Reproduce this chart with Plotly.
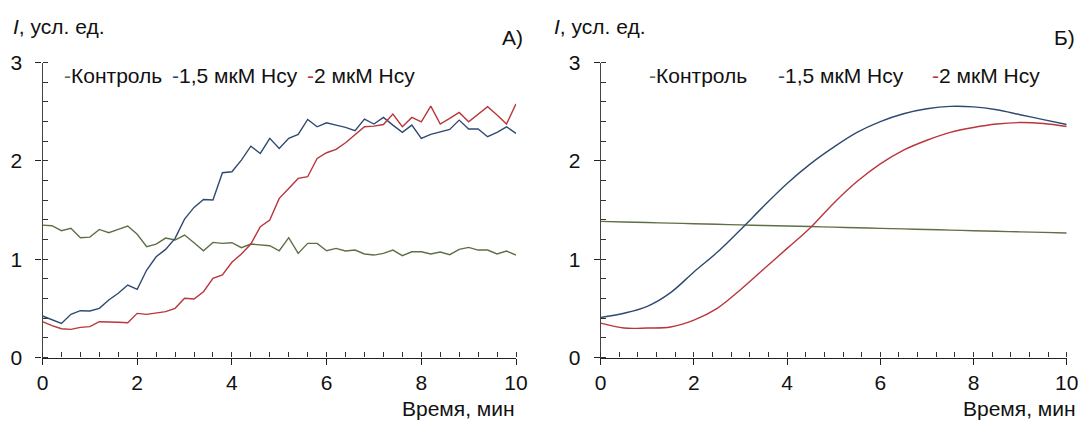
import plotly.graph_objects as go

# ---------------- data ----------------
time_a = [round(i * 0.2, 1) for i in range(51)]

control_a = [1.347, 1.341, 1.290, 1.314, 1.219, 1.225, 1.303, 1.270, 1.303, 1.337,
             1.253, 1.127, 1.154, 1.215, 1.195, 1.246, 1.168, 1.086, 1.171, 1.161,
             1.168, 1.117, 1.154, 1.144, 1.137, 1.086,
             1.219, 1.059, 1.161, 1.161, 1.086, 1.110, 1.083, 1.093, 1.053, 1.042,
             1.059, 1.093, 1.036, 1.076, 1.076, 1.053, 1.073, 1.046, 1.100, 1.120,
             1.093, 1.093, 1.053, 1.083, 1.042]

hcy15_a = [0.422, 0.381, 0.347, 0.439, 0.476, 0.473, 0.500, 0.585, 0.653, 0.737,
           0.693, 0.890, 1.025, 1.100, 1.212, 1.408, 1.527, 1.608, 1.602, 1.880,
           1.890, 2.008, 2.150, 2.076, 2.229, 2.127,
           2.229, 2.270, 2.422, 2.347, 2.388, 2.364, 2.341, 2.307, 2.425, 2.375,
           2.442, 2.364, 2.290, 2.364, 2.229, 2.270, 2.297, 2.320, 2.415, 2.324,
           2.324, 2.246, 2.290, 2.347, 2.280]

hcy2_a = [0.364, 0.324, 0.293, 0.286, 0.307, 0.314, 0.364, 0.364, 0.358, 0.354,
          0.449, 0.439, 0.449, 0.466, 0.500, 0.602, 0.595, 0.669, 0.805, 0.839,
          0.968, 1.053, 1.154, 1.331, 1.398, 1.619,
          1.720, 1.822, 1.839, 2.025, 2.083, 2.117, 2.185, 2.263, 2.347, 2.354,
          2.370, 2.476, 2.347, 2.442, 2.398, 2.558, 2.375, 2.432, 2.493, 2.398,
          2.476, 2.551, 2.466, 2.375, 2.580]

time_b = [0, 0.5, 1, 1.5, 2, 2.5, 3, 3.5, 4, 4.5, 5, 5.5, 6, 6.5, 7, 7.5, 8, 8.5, 9, 9.5, 10]
control_b = [1.385, 1.379, 1.373, 1.367, 1.361, 1.355, 1.349, 1.343, 1.337, 1.332, 1.326,
             1.320, 1.314, 1.308, 1.302, 1.296, 1.290, 1.284, 1.278, 1.273, 1.267]
hcy15_b = [0.407, 0.45, 0.52, 0.66, 0.87, 1.07, 1.30, 1.54, 1.77, 1.97, 2.14,
           2.29, 2.40, 2.48, 2.53, 2.555, 2.55, 2.52, 2.47, 2.42, 2.37]
hcy2_b = [0.35, 0.30, 0.30, 0.31, 0.38, 0.50, 0.69, 0.90, 1.11, 1.32, 1.57,
          1.79, 1.97, 2.11, 2.21, 2.29, 2.34, 2.375, 2.39, 2.38, 2.35]

series_names = ["Контроль", "1,5 мкМ Hcy", "2 мкМ Hcy"]
colors = ["#5f6f45", "#2f4a72", "#b8363c"]
y_ticks = [0, 1, 2, 3]
x_ticks = [0, 2, 4, 6, 8, 10]

FONT = "Liberation Sans, Arial, sans-serif"
FS = 21

fig = go.Figure()

panel_a = [control_a, hcy15_a, hcy2_a]
panel_b = [control_b, hcy15_b, hcy2_b]
for name, col, ys in zip(series_names, colors, panel_a):
    fig.add_trace(go.Scatter(x=time_a, y=ys, mode="lines", name=name,
                             line=dict(color=col, width=1.4),
                             xaxis="x", yaxis="y", showlegend=False))
for name, col, ys in zip(series_names, colors, panel_b):
    fig.add_trace(go.Scatter(x=time_b, y=ys, mode="lines", name=name,
                             line=dict(color=col, width=1.4, shape="spline", smoothing=1.0),
                             xaxis="x2", yaxis="y2", showlegend=False))

# the page body has an 8px default margin, so the figure is 8px smaller
OFF = 8
W, H = 1086 - OFF, 421 - OFF
def px_x(p):
    return (p - OFF) / W
def px_y(p):
    return 1 - (p - OFF) / H

xdom_a = [px_x(42.5), px_x(516)]
xdom_b = [px_x(600.7), px_x(1066.7)]
ydom = [px_y(357.5), px_y(62.6)]

common_x = dict(range=[0, 10], tickvals=x_ticks, ticks="outside", ticklen=6, tickwidth=1.3,
                tickcolor="#222", showline=True, linecolor="#222", linewidth=1.3,
                showgrid=False, zeroline=False, automargin=False,
                tickfont=dict(family=FONT, size=FS, color="#111"),
                minor=dict(dtick=0.4, ticks="inside", ticklen=5, tickcolor="#333",
                           tickwidth=1, showgrid=False))
common_y = dict(range=[0, 3], tickvals=y_ticks, ticks="outside", ticklen=6, tickwidth=1.3,
                tickcolor="#222", showline=True, linecolor="#444", linewidth=1.2,
                showgrid=False, zeroline=False, ticklabelstandoff=9, automargin=False,
                tickfont=dict(family=FONT, size=FS, color="#111"),
                minor=dict(dtick=0.2, ticks="inside", ticklen=5, tickcolor="#333",
                           tickwidth=1, showgrid=False))

fig.update_layout(
    width=W, height=H,
    margin=dict(l=0, r=0, t=0, b=0, pad=0, autoexpand=False),
    paper_bgcolor="white", plot_bgcolor="white",
    font=dict(family=FONT, size=FS, color="#111"),
    xaxis=dict(domain=xdom_a, anchor="y", **common_x),
    yaxis=dict(domain=ydom, anchor="x", **common_y),
    xaxis2=dict(domain=xdom_b, anchor="y2", **common_x),
    yaxis2=dict(domain=ydom, anchor="x2", **common_y),
)

annotations = []
# axis titles
for xr in [517, 1078]:
    annotations.append(dict(x=px_x(xr), y=px_y(408), xref="paper", yref="paper",
                            text="Время, мин", showarrow=False, xanchor="right", yanchor="middle",
                            font=dict(family=FONT, size=FS, color="#111")))
for xl in [11, 552]:
    annotations.append(dict(x=px_x(xl), y=px_y(26), xref="paper", yref="paper",
                            text="<i>I</i>, усл. ед.", showarrow=False, xanchor="left", yanchor="middle",
                            font=dict(family=FONT, size=FS, color="#111")))
# panel letters
annotations.append(dict(x=px_x(525), y=px_y(38), xref="paper", yref="paper", text="А)",
                        showarrow=False, xanchor="right", yanchor="middle",
                        font=dict(family=FONT, size=FS, color="#111")))
annotations.append(dict(x=px_x(1077), y=px_y(38), xref="paper", yref="paper", text="Б)",
                        showarrow=False, xanchor="right", yanchor="middle",
                        font=dict(family=FONT, size=FS, color="#111")))
# legend items
legend_pos_a = [62, 170, 305]
legend_pos_b = [647, 776, 930]
for positions in [legend_pos_a, legend_pos_b]:
    for xp, name, col in zip(positions, series_names, colors):
        annotations.append(dict(x=px_x(xp), y=px_y(75), xref="paper", yref="paper",
                                text=f"<span style='color:{col}'>-</span>{name}",
                                showarrow=False, xanchor="left", yanchor="middle",
                                font=dict(family=FONT, size=FS, color="#111")))
fig.update_layout(annotations=annotations)

fig.write_html("out.html")
